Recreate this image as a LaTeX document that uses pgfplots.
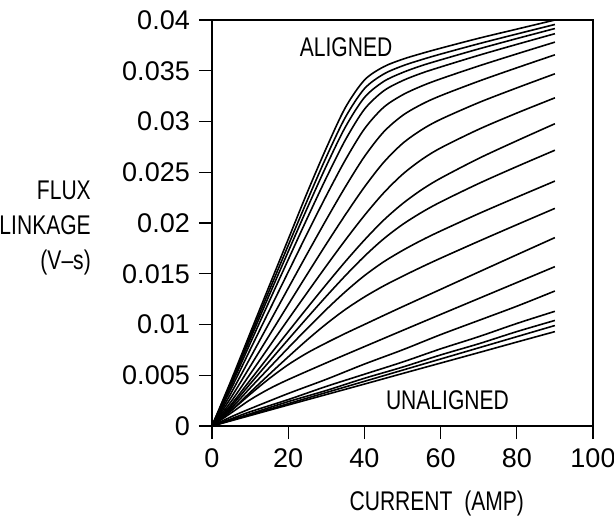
\documentclass[border=0pt]{standalone}
\usepackage{fontspec}
\setmainfont{Liberation Sans}
\newfontfamily\narrowfont{Liberation Sans}[FakeStretch=0.78]
\usepackage{pgfplots}
\pgfplotsset{compat=1.18}
\begin{document}
\fontsize{27bp}{34bp}\selectfont
\begin{tikzpicture}
\useasboundingbox (-212bp,-99bp) rectangle (402bp,426bp);
\begin{axis}[
  at={(0,0)}, anchor=south west,
  scale only axis, width=381bp, height=406bp,
  xmin=0, xmax=100, ymin=0, ymax=0.04,
  xtick={0,20,40,60,80,100},
  ytick={0,0.005,0.01,0.015,0.02,0.025,0.03,0.035,0.04},
  scaled y ticks=false,
  yticklabel style={/pgf/number format/fixed,/pgf/number format/precision=3},
  /pgf/number format/assume math mode=true,
  tick align=outside, xtick pos=bottom, ytick pos=left,
  major tick length=13bp,
  axis line style={line width=1.2pt},
  every tick/.style={line width=1.2pt, black},
  tick label style={font=\fontsize{27bp}{30bp}\selectfont},
  xlabel={CURRENT\ \ (AMP)},
  every axis x label/.style={at={(axis description cs:0.59,0)}, anchor=center, yshift=-78bp, font=\narrowfont\fontsize{27bp}{34bp}\selectfont},
  ylabel={FLUX\\LINKAGE\\(V–s)},
  every axis y label/.style={at={(axis description cs:-0.294,0.488)}, anchor=east, align=right, font=\narrowfont\fontsize{27bp}{35bp}\selectfont},
  cycle list={{black}},
  no marks,
  every axis plot post/.append style={black, solid, line width=1.6pt, line join=round, smooth, tension=0.5},
]
\addplot coordinates {(0,0)(5,.00448)(10,.00914)(15,.01378)(20,.01839)(25,.02301)(30,.02738)(35,.03137)(40,.03408)(45,.03538)(50,.03613)(55,.0367)(60,.03722)(70,.0382)(80,.0391)(90,.0400)};
\addplot coordinates {(0,0)(5,.00432)(10,.00883)(15,.01333)(20,.01779)(25,.02222)(30,.0265)(35,.03041)(40,.03323)(45,.03466)(50,.03548)(55,.03609)(60,.03664)(70,.03766)(80,.03862)(90,.03956)};
\addplot coordinates {(0,0)(5,.00417)(10,.00853)(15,.01287)(20,.01718)(25,.02147)(30,.02562)(35,.02945)(40,.03236)(45,.03393)(50,.03482)(55,.0355)(60,.03607)(70,.03715)(80,.03817)(90,.03916)};
\addplot coordinates {(0,0)(5,.00396)(10,.00812)(15,.01227)(20,.01638)(25,.02047)(30,.02445)(35,.02818)(40,.0312)(45,.033)(50,.03402)(55,.03476)(60,.03537)(70,.03652)(80,.0376)(90,.03865)};
\addplot coordinates {(0,0)(5,.00365)(10,.00751)(15,.01135)(20,.01517)(25,.01898)(30,.02269)(35,.02621)(40,.02927)(45,.03138)(50,.03262)(55,.03349)(60,.0342)(70,.03547)(80,.03666)(90,.03782)};
\addplot coordinates {(0,0)(5,.00323)(10,.00669)(15,.01014)(20,.01357)(25,.01698)(30,.02033)(35,.02356)(40,.02654)(45,.02895)(50,.03059)(55,.03169)(60,.03254)(70,.03397)(80,.03529)(90,.03657)};
\addplot coordinates {(0,0)(5,.0028)(10,.00586)(15,.00891)(20,.01195)(25,.01496)(30,.01793)(35,.02081)(40,.02354)(45,.02595)(50,.02783)(55,.02918)(60,.03021)(70,.03186)(80,.03331)(90,.0347)};
\addplot coordinates {(0,0)(5,.0024)(10,.00511)(15,.00782)(20,.0105)(25,.01315)(30,.01577)(35,.01832)(40,.02074)(45,.02294)(50,.02479)(55,.02624)(60,.02739)(70,.02923)(80,.03083)(90,.03233)};
\addplot coordinates {(0,0)(5,.0021)(10,.00451)(15,.00691)(20,.00929)(25,.01164)(30,.01395)(35,.0162)(40,.01832)(45,.02026)(50,.0219)(55,.02327)(60,.02441)(70,.02636)(80,.0281)(90,.02978)};
\addplot coordinates {(0,0)(5,.00193)(10,.00414)(15,.00634)(20,.00852)(25,.01067)(30,.01278)(35,.01481)(40,.01672)(45,.01842)(50,.01985)(55,.02104)(60,.02207)(70,.02389)(80,.02556)(90,.02717)};
\addplot coordinates {(0,0)(5,.00173)(10,.00374)(15,.00572)(20,.00769)(25,.00961)(30,.01148)(35,.01323)(40,.01481)(45,.01616)(50,.01729)(55,.0183)(60,.01921)(70,.02092)(80,.02254)(90,.02413)};
\addplot coordinates {(0,0)(5,.00152)(10,.00331)(15,.00508)(20,.00681)(25,.00849)(30,.01006)(35,.01148)(40,.01271)(45,.01379)(50,.01475)(55,.01566)(60,.01653)(70,.0182)(80,.01983)(90,.02144)};
\addplot coordinates {(0,0)(5,.0015)(10,.00312)(15,.00466)(20,.00604)(25,.0072)(30,.00819)(35,.00912)(40,.01)(45,.01088)(50,.01175)(60,.01346)(70,.01517)(80,.01687)(90,.01856)};
\addplot coordinates {(0,0)(5,.00128)(10,.00258)(15,.00366)(20,.00457)(30,.00622)(40,.00782)(50,.00941)(60,.01099)(70,.01256)(80,.01413)(90,.0157)};
\addplot coordinates {(0,0)(5,.0009)(10,.0017)(20,.0032)(30,.0046)(40,.0061)(50,.0075)(60,.0090)(70,.0104)(80,.0118)(90,.0133)};
\addplot coordinates {(0,0)(5,.0007)(10,.0014)(20,.0026)(30,.0039)(40,.0051)(50,.0063)(60,.0076)(70,.0088)(80,.0101)(90,.0113)};
\addplot coordinates {(0,0)(10,.0012)(20,.0024)(30,.0035)(40,.0047)(50,.0058)(60,.0070)(70,.0081)(80,.0093)(90,.0104)};
\addplot coordinates {(0,0)(10,.0011)(20,.0022)(30,.0033)(40,.0044)(50,.0055)(60,.0066)(70,.0077)(80,.0088)(90,.0099)};
\addplot coordinates {(0,0)(10,.00103)(20,.00207)(30,.0031)(40,.00413)(50,.00517)(60,.0062)(70,.00723)(80,.00827)(90,.0093)};
\node[font=\narrowfont\fontsize{27bp}{30bp}\selectfont] at (axis cs:35.2,0.0373) {ALIGNED};
\node[font=\narrowfont\fontsize{27bp}{30bp}\selectfont] at (axis cs:61.8,0.0025) {UNALIGNED};
\end{axis}
\end{tikzpicture}
\end{document}
